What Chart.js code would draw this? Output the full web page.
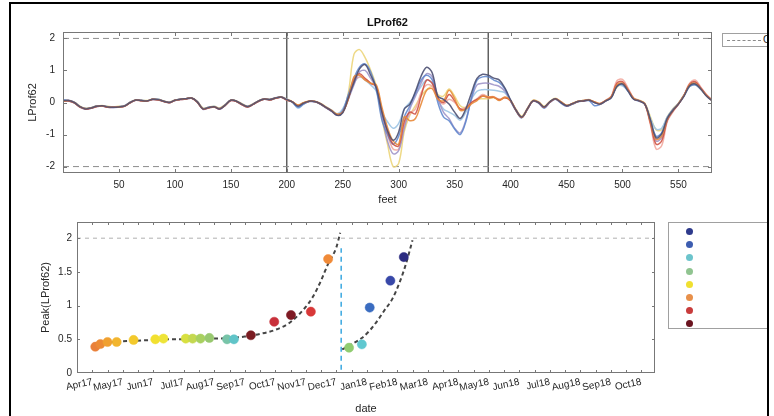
<!DOCTYPE html>
<html><head><meta charset="utf-8">
<script src="https://cdn.jsdelivr.net/npm/chart.js@4.4.0/dist/chart.umd.min.js"></script>
<style>
html,body{margin:0;padding:0;background:#fff;width:774px;height:416px;overflow:hidden;font-family:"Liberation Sans",Arial,sans-serif;}
canvas{position:absolute;left:0;}
.abs{position:absolute;}
</style></head><body>
<canvas id="c1" width="774" height="210" style="top:0;width:774px;height:210px"></canvas>
<canvas id="c2" width="774" height="206" style="top:210px;width:774px;height:206px"></canvas>
<div class="abs" style="left:722px;top:33px;width:140px;height:12px;border:1px solid #a0a0a0;background:#fff;">
  <div class="abs" style="left:4px;top:6px;width:34px;border-top:1px dashed #8a8a8a;"></div>
  <div class="abs" style="left:40px;top:0px;font-size:10px;line-height:12px;color:#222;white-space:nowrap;">Class limit</div>
</div>
<div class="abs" id="leg2" style="left:668px;top:222px;width:140px;height:105px;border:1px solid #a0a0a0;background:#fff;"></div>
<div class="abs" style="left:769px;top:0;width:10px;height:416px;background:#fff;"></div>
<div class="abs" style="left:9px;top:2px;width:2px;height:414px;background:#000;"></div>
<div class="abs" style="left:9px;top:2px;width:760px;height:2px;background:#000;"></div>
<div class="abs" style="left:767px;top:2px;width:2px;height:414px;background:#000;"></div>
<script>
// ---------- top chart data ----------
const feet = [0,5,10,15,20,25,30,35,40,45,50,55,60,65,70,75,80,85,90,95,100,105,110,115,120,125,130,135,140,145,150,155,160,165,170,175,180,185,190,195,200,
205,210,215,220,225,230,235,240,245,250,255,260,265,270,275,280,285,290,295,300,305,310,315,320,325,330,335,340,345,350,355,360,365,370,375,
380,385,390,395,400,405,410,415,420,425,430,435,440,445,450,455,460,465,470,475,480,485,490,495,500,505,510,515,520,525,530,535,540,545,550,555,560,565,570,575,580];
const feetTicks = [50,100,150,200,250,300,350,400,450,500,550];
const profileTicks = [-2,-1,0,1,2];
const limitLevels = [-2,2];
const zoneBounds = [200,380];

const profDark = [0.06,0.06,0.0,-0.13,-0.2,-0.17,-0.12,-0.1,-0.14,-0.15,-0.14,-0.11,0.0,0.08,0.06,0.05,0.1,0.09,0.04,0.0,0.07,0.1,0.12,0.14,0.02,-0.2,-0.16,-0.13,-0.2,-0.08,0.07,0.04,-0.06,-0.13,-0.05,0.05,0.11,0.09,0.14,0.17,0.09,
0.02,-0.12,-0.02,0.04,0.03,-0.04,-0.15,-0.26,-0.4,-0.32,0.15,0.62,1.05,1.18,0.85,0.45,-0.3,-0.88,-1.18,-0.92,-0.2,-0.05,0.35,0.82,1.1,0.92,0.2,0.1,-0.05,-0.3,-0.5,-0.2,0.3,0.75,0.88,
0.85,0.76,0.7,0.45,0.08,-0.25,-0.45,-0.2,0.05,0.0,-0.14,0.02,0.12,0.0,-0.1,-0.04,0.03,0.05,0.08,0.0,-0.05,0.05,0.15,0.5,0.58,0.36,0.1,0.05,-0.05,-0.55,-1.1,-0.98,-0.5,-0.25,-0.05,0.2,0.52,0.58,0.42,0.2,0.06];
const profBlue = [0.08,0.07,0.01,-0.12,-0.19,-0.17,-0.11,-0.1,-0.13,-0.15,-0.13,-0.1,0.01,0.08,0.07,0.05,0.1,0.1,0.04,0.01,0.07,0.11,0.12,0.14,0.03,-0.19,-0.15,-0.13,-0.19,-0.07,0.08,0.04,-0.05,-0.12,-0.05,0.06,0.11,0.1,0.15,0.17,0.1,
0.0,-0.15,-0.05,0.03,0.02,-0.05,-0.16,-0.27,-0.38,-0.25,0.25,0.75,1.1,1.2,0.95,0.4,-0.55,-1.0,-1.3,-1.05,-0.45,-0.1,0.3,0.7,0.85,0.7,0.0,-0.45,-0.57,-0.83,-1.0,-0.6,0.15,0.7,0.8,
0.8,0.7,0.62,0.42,0.05,-0.27,-0.48,-0.22,0.04,-0.02,-0.18,0.0,0.1,-0.02,-0.12,-0.06,0.02,0.04,0.06,-0.1,-0.06,0.04,0.16,0.52,0.56,0.35,0.1,0.04,-0.06,-0.55,-1.05,-0.95,-0.48,-0.22,-0.03,0.22,0.5,0.55,0.42,0.22,0.07];
const profLightBlue = [0.07,0.05,0.0,-0.12,-0.18,-0.16,-0.12,-0.1,-0.13,-0.14,-0.13,-0.1,0.0,0.07,0.06,0.05,0.09,0.09,0.04,0.01,0.06,0.1,0.11,0.13,0.03,-0.18,-0.15,-0.12,-0.18,-0.07,0.07,0.05,-0.05,-0.12,-0.04,0.05,0.1,0.09,0.14,0.16,0.1,
0.01,-0.18,-0.05,0.04,0.03,-0.04,-0.14,-0.24,-0.35,-0.2,0.2,0.6,0.8,0.7,0.55,0.35,-0.3,-0.6,-0.8,-0.65,-0.2,0.0,0.25,0.5,0.7,0.6,0.1,-0.2,-0.3,-0.4,-0.55,-0.3,0.1,0.35,0.4,
0.4,0.38,0.35,0.3,0.05,-0.25,-0.45,-0.2,0.06,0.01,-0.15,0.01,0.12,0.01,-0.1,-0.05,0.03,0.06,0.08,0.0,-0.04,0.06,0.17,0.5,0.52,0.35,0.12,0.06,-0.04,-0.5,-0.83,-0.8,-0.45,-0.22,-0.04,0.2,0.5,0.55,0.4,0.2,0.05];
const profPurple = [0.06,0.05,-0.01,-0.14,-0.21,-0.18,-0.13,-0.11,-0.15,-0.16,-0.14,-0.11,-0.01,0.07,0.06,0.04,0.09,0.08,0.03,-0.01,0.06,0.09,0.11,0.13,0.01,-0.21,-0.17,-0.14,-0.21,-0.09,0.06,0.03,-0.07,-0.14,-0.06,0.04,0.1,0.08,0.13,0.16,0.08,
0.02,-0.1,-0.03,0.03,0.02,-0.05,-0.17,-0.28,-0.4,-0.3,0.1,0.55,0.95,1.0,0.75,0.45,-0.4,-1.2,-1.6,-1.5,-0.8,-0.2,0.2,0.6,0.9,0.8,0.15,-0.3,-0.5,-0.8,-0.95,-0.55,0.1,0.55,0.6,
0.6,0.55,0.5,0.35,0.06,-0.24,-0.46,-0.2,0.05,0.0,-0.16,0.0,0.11,0.0,-0.1,-0.05,0.02,0.05,0.07,0.0,-0.05,0.05,0.16,0.52,0.6,0.38,0.12,0.05,-0.05,-0.6,-1.2,-1.1,-0.55,-0.26,-0.05,0.22,0.55,0.62,0.44,0.22,0.06];
const profYellow = [0.05,0.05,0.01,-0.11,-0.18,-0.16,-0.11,-0.09,-0.12,-0.14,-0.12,-0.1,0.01,0.08,0.07,0.06,0.1,0.1,0.05,0.01,0.08,0.1,0.12,0.14,0.04,-0.17,-0.15,-0.12,-0.17,-0.06,0.08,0.05,-0.04,-0.11,-0.04,0.06,0.11,0.1,0.14,0.17,0.11,
0.03,-0.08,0.0,0.05,0.04,-0.03,-0.13,-0.24,-0.36,-0.28,0.3,1.5,1.65,1.4,1.0,0.5,-0.5,-1.3,-2.0,-1.9,-0.9,-0.4,-0.1,0.2,0.4,0.5,0.25,0.2,0.42,0.2,-0.1,-0.15,0.0,0.1,0.12,
0.12,0.15,0.1,0.15,0.06,-0.22,-0.42,-0.18,0.07,0.03,-0.12,0.03,0.13,0.03,-0.08,-0.03,0.04,0.06,0.09,0.02,-0.03,0.06,0.18,0.48,0.55,0.4,0.14,0.07,-0.02,-0.45,-0.85,-0.85,-0.45,-0.2,-0.02,0.24,0.5,0.56,0.42,0.22,0.08];
const profOrange = [0.05,0.06,0.0,-0.13,-0.19,-0.17,-0.12,-0.1,-0.14,-0.15,-0.14,-0.11,0.0,0.08,0.06,0.05,0.1,0.09,0.04,0.0,0.07,0.1,0.12,0.14,0.02,-0.19,-0.16,-0.13,-0.19,-0.08,0.07,0.04,-0.06,-0.13,-0.05,0.05,0.11,0.09,0.14,0.17,0.09,
0.02,-0.08,-0.01,0.04,0.03,-0.04,-0.15,-0.25,-0.36,-0.3,0.1,0.8,0.85,0.7,0.6,0.55,-0.15,-0.78,-1.2,-1.3,-0.45,-0.57,-0.5,-0.05,0.38,0.43,0.1,0.06,0.38,0.12,-0.25,-0.2,-0.04,0.06,0.2,
0.17,0.17,0.06,0.17,0.06,-0.25,-0.46,-0.2,0.06,0.01,-0.14,0.02,0.12,0.02,-0.09,-0.04,0.03,0.06,0.08,0.02,-0.04,0.06,0.17,0.55,0.6,0.38,0.12,0.06,-0.04,-0.6,-1.15,-1.05,-0.52,-0.25,-0.04,0.22,0.55,0.6,0.43,0.22,0.06];
const profRed = [0.04,0.05,-0.01,-0.14,-0.2,-0.18,-0.13,-0.11,-0.15,-0.15,-0.14,-0.12,-0.01,0.07,0.05,0.04,0.09,0.08,0.03,-0.01,0.06,0.09,0.11,0.13,0.01,-0.2,-0.17,-0.14,-0.2,-0.09,0.06,0.03,-0.07,-0.14,-0.06,0.04,0.1,0.08,0.13,0.16,0.08,
0.02,-0.09,-0.01,0.04,0.03,-0.04,-0.15,-0.26,-0.38,-0.3,0.12,0.7,0.9,0.75,0.6,0.5,-0.25,-0.9,-1.3,-1.35,-0.6,-0.3,-0.35,0.2,0.7,0.6,0.15,0.0,0.25,0.05,-0.2,-0.2,0.0,0.1,0.2,
0.15,0.16,0.08,0.15,0.05,-0.26,-0.47,-0.21,0.05,0.0,-0.15,0.01,0.11,0.01,-0.1,-0.04,0.03,0.05,0.08,0.01,-0.04,0.06,0.18,0.6,0.65,0.4,0.12,0.05,-0.05,-0.65,-1.3,-1.2,-0.55,-0.27,-0.05,0.22,0.57,0.65,0.45,0.23,0.07];
const profPink = [0.05,0.06,0.0,-0.13,-0.2,-0.17,-0.12,-0.1,-0.14,-0.15,-0.14,-0.11,0.0,0.08,0.06,0.05,0.1,0.09,0.04,0.0,0.07,0.1,0.12,0.14,0.02,-0.2,-0.16,-0.13,-0.2,-0.08,0.07,0.04,-0.06,-0.13,-0.05,0.05,0.11,0.09,0.14,0.17,0.09,
0.02,-0.1,-0.02,0.04,0.03,-0.04,-0.15,-0.26,-0.38,-0.28,0.15,0.65,0.8,0.75,0.6,0.5,-0.35,-1.0,-1.45,-1.45,-0.7,-0.35,-0.2,0.3,0.55,0.5,0.1,-0.05,0.1,0.0,-0.2,-0.15,0.0,0.12,0.25,
0.18,0.18,0.1,0.16,0.06,-0.24,-0.45,-0.19,0.06,0.01,-0.14,0.02,0.12,0.02,-0.09,-0.04,0.03,0.06,0.08,0.02,-0.03,0.07,0.2,0.68,0.72,0.45,0.14,0.06,-0.05,-0.7,-1.45,-1.35,-0.6,-0.3,-0.06,0.23,0.6,0.7,0.48,0.25,0.08];

// drawn top-first order (first = on top)
const profiles = [profDark, profOrange, profRed, profBlue, profPurple, profPink, profLightBlue, profYellow];
const profileNames = ['Survey 8','Survey 6','Survey 7','Survey 2','Survey 4','Survey 5','Survey 3','Survey 1'];
const profileColors = ['rgba(77,80,114,0.9)','rgba(232,137,58,0.9)','rgba(204,74,60,0.85)','rgba(90,132,204,0.85)','rgba(154,143,198,0.85)','rgba(242,170,160,0.9)','rgba(156,196,228,0.9)','rgba(236,213,122,0.9)'];

// ---------- bottom chart data ----------
const monthLabels = ['Apr17','May17','Jun17','Jul17','Aug17','Sep17','Oct17','Nov17','Dec17','Jan18','Feb18','Mar18','Apr18','May18','Jun18','Jul18','Aug18','Sep18','Oct18'];
const peakTicks = [0,0.5,1,1.5,2];
const surveyDates = ['2017-04-04','2017-04-09','2017-04-16','2017-04-25','2017-05-12','2017-06-03','2017-06-11','2017-07-03','2017-07-10','2017-07-18','2017-07-27','2017-08-14','2017-08-21','2017-09-07','2017-09-30','2017-10-17','2017-11-06','2017-11-23','2017-12-14','2017-12-27','2018-01-04','2018-01-25','2018-02-07'];
const peakValues = [0.39,0.43,0.46,0.46,0.49,0.50,0.51,0.51,0.51,0.51,0.52,0.50,0.50,0.56,0.76,0.86,0.91,1.69,0.375,0.425,0.97,1.37,1.72];
const pointColors = ['#e9803a','#ec8a35','#f0a030','#f2b52e','#f3c92c','#f2e030','#eee438','#d8e040','#c4d850','#a8d060','#98c870','#78c4a8','#60c4c8','#7a1c22','#c8303a','#7e1a24','#d83838','#f08a38','#90cc70','#60c8d0','#3a6cc0','#3848a8','#2c2c80'];
const fitEarlyDates = ['2017-04-04','2017-04-16','2017-05-01','2017-05-16','2017-06-01','2017-06-16','2017-07-01','2017-07-16','2017-08-01','2017-08-16','2017-09-01','2017-09-16','2017-10-01','2017-10-16','2017-11-01','2017-11-08','2017-11-16','2017-11-23','2017-12-01','2017-12-05'];
const fitEarlyValues = [0.42,0.45,0.47,0.48,0.49,0.50,0.50,0.51,0.51,0.52,0.54,0.58,0.64,0.75,0.98,1.13,1.37,1.62,1.86,2.08];
const fitLateDates = ['2017-12-07','2017-12-16','2017-12-27','2018-01-04','2018-01-13','2018-01-19','2018-01-27','2018-02-04','2018-02-09','2018-02-15'];
const fitLateValues = [0.35,0.42,0.52,0.63,0.80,0.93,1.10,1.38,1.62,1.97];
const resetDate = '2017-12-06';
const resetSpan = [0.05,1.85];
const peakLimit = 2;
const legendColors = ['#2e3a8c','#3d5db0','#6cc4cc','#90c490','#f0e030','#e8904a','#c83c3c','#6a1420'];

// month offset from Apr 2017
function toMonths(s){const [y,m,d]=s.split('-').map(Number);const dim=new Date(y,m,0).getDate();return (y-2017)*12+(m-4)+(d-1)/dim;}

Chart.defaults.font.family = '"Liberation Sans", Arial, sans-serif';
Chart.defaults.font.size = 10;
Chart.defaults.color = '#262626';
Chart.defaults.animation = false;

const boxTicks = {
  id:'boxTicks',
  afterDraw(chart, args, o){
    const {ctx, chartArea:a, scales:{x,y}} = chart;
    ctx.save();
    ctx.strokeStyle = o.color; ctx.lineWidth = 1;
    ctx.strokeRect(Math.round(a.left)+0.5, Math.round(a.top)+0.5, Math.round(a.width)-1, Math.round(a.height)-1);
    ctx.beginPath();
    x.ticks.forEach(t=>{const p=Math.round(x.getPixelForValue(t.value))+0.5; if(p<a.left+1||p>a.right-1) return; ctx.moveTo(p,a.bottom);ctx.lineTo(p,a.bottom-o.len);ctx.moveTo(p,a.top);ctx.lineTo(p,a.top+o.len);});
    y.ticks.forEach(t=>{const p=Math.round(y.getPixelForValue(t.value))+0.5; if(p<a.top+1||p>a.bottom-1) return; ctx.moveTo(a.left,p);ctx.lineTo(a.left+o.len,p);ctx.moveTo(a.right,p);ctx.lineTo(a.right-o.len,p);});
    ctx.stroke();
    ctx.restore();
  }
};

// ---------- top chart ----------
const topSets = profiles.map((vals,i)=>({
  label: profileNames[i], data: feet.map((f,j)=>({x:f,y:vals[j]})),
  borderColor: profileColors[i], borderWidth: 1.5, pointRadius: 0, tension: 0.35, fill:false
}));
limitLevels.forEach(v=>topSets.push({label:'limit', data:[{x:0,y:v},{x:580,y:v}], borderColor:'#8c8c8c', borderWidth:1, borderDash:[6,4], pointRadius:0}));
zoneBounds.forEach(v=>topSets.push({label:'zone', data:[{x:v,y:-2.2},{x:v,y:2.2}], borderColor:'#3a3a3a', borderWidth:1.2, pointRadius:0}));

new Chart(document.getElementById('c1'), {
  type:'line',
  data:{datasets: topSets},
  plugins:[boxTicks],
  options:{
    responsive:false, devicePixelRatio:1, animation:false,
    layout:{padding:{left:26,right:62,top:0,bottom:3}},
    plugins:{
      legend:{display:false}, tooltip:{enabled:false},
      title:{display:true, text:'LProf62', fullSize:false, color:'#111', font:{size:11, weight:'bold'}, padding:{top:16,bottom:2.8}},
      boxTicks:{color:'#777', len:4}
    },
    scales:{
      x:{type:'linear', min:0, max:580,
        afterBuildTicks:s=>{s.ticks=feetTicks.map(v=>({value:v}));},
        afterFit:s=>{s.height=34;},
        grid:{display:false, drawTicks:false}, border:{display:false},
        ticks:{padding:6, maxRotation:0, autoSkip:false},
        title:{display:true, text:'feet', font:{size:11}, padding:{top:0,bottom:0}}},
      y:{type:'linear', min:-2.2, max:2.2,
        afterBuildTicks:s=>{s.ticks=profileTicks.map(v=>({value:v}));},
        afterFit:s=>{s.width=37;},
        grid:{display:false, drawTicks:false}, border:{display:false},
        ticks:{padding:8, callback:v=>String(v)},
        title:{display:true, text:'LProf62', font:{size:11}, padding:{top:0,bottom:0}}}
    }
  }
});

// ---------- bottom chart ----------
const resetX = toMonths(resetDate);
const botSets = [
  {type:'scatter', label:'peaks', data: surveyDates.map((d,i)=>({x:toMonths(d), y:peakValues[i]})),
   pointBackgroundColor: pointColors, pointBorderColor: pointColors, pointRadius:4.6, pointBorderWidth:0.5},
  {type:'line', label:'fit1', data: fitEarlyDates.map((d,i)=>({x:toMonths(d), y:fitEarlyValues[i]})),
   borderColor:'#454545', borderWidth:2, borderDash:[4,3], pointRadius:0, cubicInterpolationMode:'monotone'},
  {type:'line', label:'fit2', data: fitLateDates.map((d,i)=>({x:toMonths(d), y:fitLateValues[i]})),
   borderColor:'#454545', borderWidth:2, borderDash:[4,3], pointRadius:0, cubicInterpolationMode:'monotone'},
  {type:'line', label:'reset', data: resetSpan.map(v=>({x:resetX, y:v})),
   borderColor:'#3aa8e0', borderWidth:1.5, borderDash:[5,4], pointRadius:0},
  {type:'line', label:'limit', data:[{x:-0.5,y:peakLimit},{x:18.45,y:peakLimit}],
   borderColor:'#b0b0b0', borderWidth:1, borderDash:[4,4], pointRadius:0}
];
const xTickVals = [];
monthLabels.forEach((l,i)=>{xTickVals.push(i-0.5); xTickVals.push(i);});

new Chart(document.getElementById('c2'), {
  type:'scatter',
  data:{datasets: botSets},
  plugins:[boxTicks],
  options:{
    responsive:false, devicePixelRatio:1, animation:false,
    layout:{padding:{left:39,right:119,top:12,bottom:0}},
    plugins:{legend:{display:false}, tooltip:{enabled:false}, boxTicks:{color:'#777', len:3}},
    scales:{
      x:{type:'linear', min:-0.5, max:18.45,
        afterBuildTicks:s=>{s.ticks=xTickVals.map(v=>({value:v}));},
        afterFit:s=>{s.height=43;},
        grid:{display:false, drawTicks:false}, border:{display:false},
        ticks:{padding:3, minRotation:12, maxRotation:12, autoSkip:false,
          callback:v=>Number.isInteger(v)&&v>=0 ? monthLabels[v] : ''},
        title:{display:true, text:'date', font:{size:11}, padding:{top:0,bottom:0}}},
      y:{type:'linear', min:0, max:2.24,
        afterBuildTicks:s=>{s.ticks=peakTicks.map(v=>({value:v}));},
        afterFit:s=>{s.width=38;},
        grid:{display:false, drawTicks:false}, border:{display:false},
        ticks:{padding:5, callback:v=>String(v)},
        title:{display:true, text:'Peak(LProf62)', font:{size:11}, padding:{top:0,bottom:0}}}
    }
  }
});

// bottom legend markers
const leg2 = document.getElementById('leg2');
legendColors.forEach((c,i)=>{
  const d = document.createElement('div');
  d.className='abs';
  d.style.cssText = `left:17px;top:${5+i*13.2}px;width:7px;height:7px;border-radius:50%;background:${c};`;
  leg2.appendChild(d);
});
</script>
</body></html>
